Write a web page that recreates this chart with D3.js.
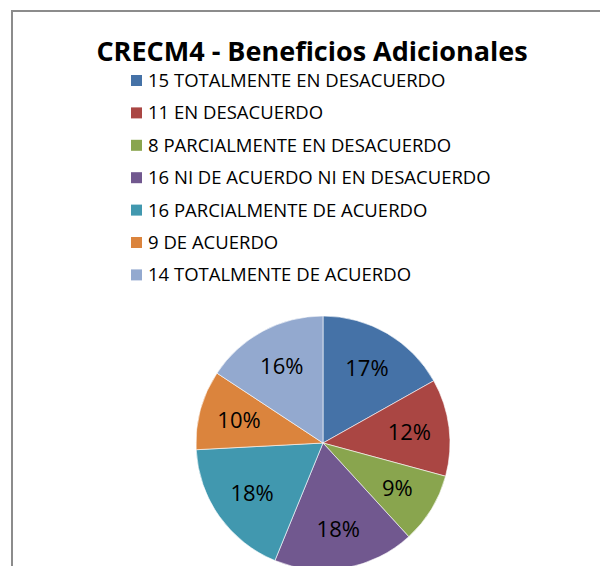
<!DOCTYPE html>
<html lang="es">
<head>
  <meta charset="utf-8">
  <title>CRECM4 - Beneficios Adicionales</title>
  <script src="https://d3js.org/d3.v7.min.js"></script>
  <style>
    body { margin: 0; background: #fff; }
    text { font-family: "Open Sans", sans-serif; fill: #000; }
  </style>
</head>
<body>
  <div id="chart"></div>

  <script>
    "use strict"

    var titulo = "CRECM4 - Beneficios Adicionales";
    var categorias = ["TOTALMENTE EN DESACUERDO", "EN DESACUERDO", "PARCIALMENTE EN DESACUERDO",
                      "NI DE ACUERDO NI EN DESACUERDO", "PARCIALMENTE DE ACUERDO", "DE ACUERDO",
                      "TOTALMENTE DE ACUERDO"];
    var valores = [15, 11, 8, 16, 16, 9, 14];
    var cores = ["#4572A7", "#AA4643", "#89A54E", "#71588F", "#4198AF", "#DB843D", "#93A9CF"];

    var largura = 600, altura = 566;

    var svg = d3.select('#chart')
      .append('svg')
        .attr('width', largura)
        .attr('height', altura);

    // moldura do grafico (continua para fora da imagem)
    svg.append('rect')
      .attr('x', 12).attr('y', 11)
      .attr('width', 700).attr('height', 700)
      .attr('fill', '#fff')
      .attr('stroke', '#8c8c8c')
      .attr('stroke-width', 2);

    svg.append('text')
      .attr('x', 312).attr('y', 61)
      .attr('text-anchor', 'middle')
      .style('font-size', '27px')
      .style('font-weight', 'bold')
      .text(titulo);

    /*
     * legenda
     */
    var y = d3.scaleBand()
      .domain(d3.range(valores.length))
      .range([64, 64 + 32.4 * valores.length]);

    var legenda = svg.append('g').selectAll('g')
      .data(valores)
      .join('g')
        .attr('transform', (d, i) => 'translate(131,' + y(i) + ')');

    legenda.append('rect')
      .attr('y', 11).attr('width', 11).attr('height', 11)
      .attr('fill', (d, i) => cores[i]);

    legenda.append('text')
      .attr('x', 17).attr('y', 23)
      .style('font-size', '18.5px')
      .text((d, i) => d + ' ' + categorias[i]);

    /*
     * a pizza
     */
    var raio = 127;
    var pizza = d3.pie().sort(null).value(d => d);
    var arco = d3.arc().innerRadius(0).outerRadius(raio);
    var arcoRotulo = d3.arc().innerRadius(87).outerRadius(87);
    var total = d3.sum(valores);

    var g = svg.append('g')
      .attr('transform', 'translate(323,443)');

    var fatias = pizza(valores);

    g.selectAll('path')
      .data(fatias)
      .join('path')
        .attr('d', arco)
        .attr('fill', (d, i) => cores[i])
        .attr('stroke', '#fff')
        .attr('stroke-width', 0.6);

    g.selectAll('text')
      .data(fatias)
      .join('text')
        .attr('transform', d => 'translate(' + arcoRotulo.centroid(d) + ')')
        .attr('text-anchor', 'middle')
        .attr('dy', '0.36em')
        .style('font-size', '22px')
        .text(d => Math.round(d.data / total * 100) + '%');
  </script>
</body>
</html>
